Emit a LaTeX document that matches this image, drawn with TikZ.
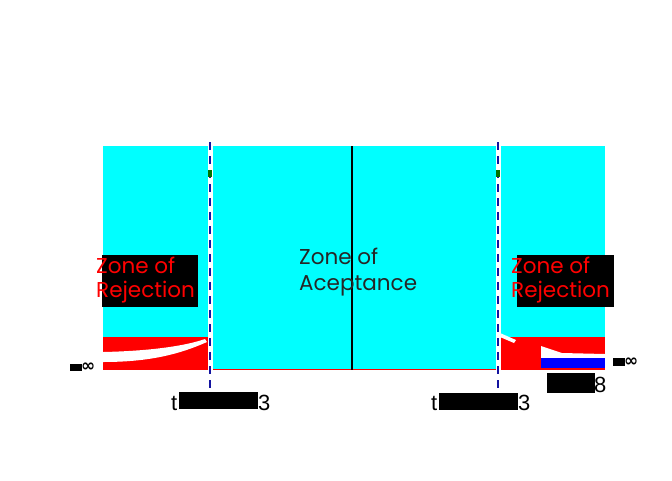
\documentclass[tikz,border=0pt]{standalone}
\usepackage{fontspec}
\setmainfont{Poppins}
\newfontfamily\tickfont{Liberation Sans}
\newfontfamily\symfont{DejaVu Sans}
\usetikzlibrary{positioning}
\definecolor{aqua}{RGB}{0,255,255}
\definecolor{critblue}{RGB}{20,20,160}

\begin{document}
\begin{tikzpicture}[x=1pt, y=-1pt,
    zonetext/.style={text=red, align=left, inner sep=0pt, anchor=north west,
                     font=\fontsize{21.5}{24}\selectfont},
    mask/.style={fill=black, draw=none},
    tick/.style={inner sep=0pt, anchor=base west, font=\tickfont\fontsize{22}{24}\selectfont},
    inf/.style={inner sep=0pt, anchor=west, font=\symfont\bfseries\fontsize{17}{18}\selectfont},
    crit/.style={dash pattern=on 8pt off 6pt, draw=critblue, line width=1.8pt},
  ]
  \useasboundingbox (0,0) rectangle (672,480);

  % acceptance area and tails
  \fill[aqua] (103,146) rectangle (605,370);
  \fill[red] (103,337) rectangle (210,370);
  \fill[red] (498,337) rectangle (605,370);
  \draw[red, line width=1.5pt] (210,369.5) -- (498,369.5);
  \fill[white] (103,352) .. controls (150,351) and (185,346) .. (205,339)
    -- (207,342) .. controls (180,354) and (150,362) .. (103,362) -- cycle;
  \fill[white] (500,333) -- (516,340) -- (514,343) -- (500,337) -- cycle;
  \fill[white] (541,346) -- (562,353) -- (605,354) -- (605,358) -- (541,358) -- cycle;
  \fill[blue] (541,358) rectangle (605,368);

  % centre line
  \draw[black, line width=2.5pt] (352,146) -- (352,370);

  % critical values
  \foreach \cx/\nm in {210/left, 498/right} {
    \draw[white, line width=5pt] (\cx,142) -- (\cx,392);
    \draw[crit] (\cx,142) -- (\cx,392);
    \fill[green!45!black] (\cx-2,170) rectangle (\cx+2,177);
    \coordinate (cv\nm) at (\cx,392);
  }

  % zone labels
  \fill[mask] (102,255) rectangle (198,307);
  \node[zonetext] (rejleft) at (96,257) {Zone of\\Rejection};
  \fill[mask] (517,255) rectangle (614,307);
  \node[zonetext] (rejright) at (511,257) {Zone of\\Rejection};
  \node[zonetext, text=black!85, font=\fontsize{21.5}{26}\selectfont]
    (accept) at (299,248) {Zone of\\Aceptance};

  % infinity marks
  \fill[mask] (70,364) rectangle (82,371);
  \node[inf] (minf) at (81,367.5) {∞};
  \fill[mask] (613,358) rectangle (625,366);
  \node[inf] (pinf) at (624,362) {∞};

  % tick labels
  \node[tick] (tl) at (171,410) {t};
  \fill[mask] (179,392) rectangle (258,409);
  \node[tick] (tlend) at (258,410) {3};
  \node[tick] (tr) at (431,410) {t};
  \fill[mask] (439,393) rectangle (518,410);
  \node[tick] (trend) at (518,410) {3};
  \node[tick] (tx) at (547,392) {t};
  \fill[mask] (547,373) rectangle (595,393);
  \node[tick] (txend) at (594,392) {8};
\end{tikzpicture}
\end{document}
